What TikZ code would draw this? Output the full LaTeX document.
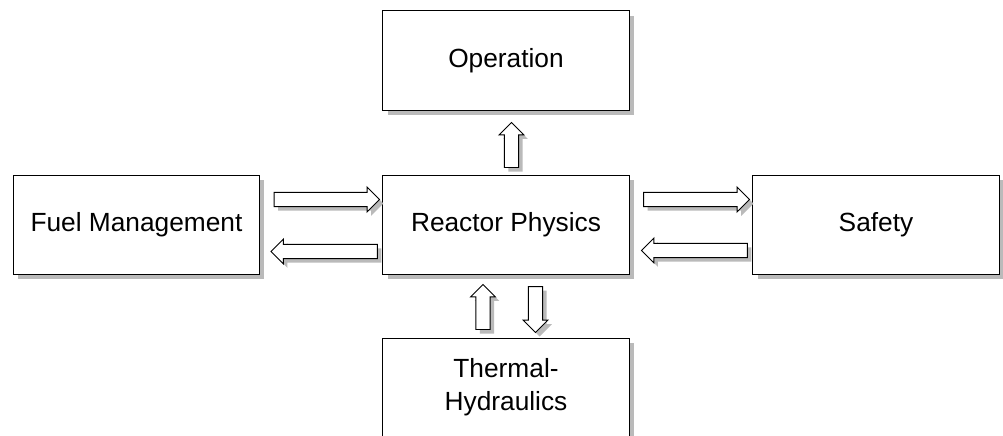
\documentclass[tikz,border=0pt]{standalone}
\usepackage{fontspec}
\setmainfont{Liberation Sans}
\usetikzlibrary{calc,shadows}
\newcommand\bw{0.18cm}
\newcommand\bhw{0.31cm}
\newcommand\bh{0.31cm}
\newcommand\blockarrow[2]{%
  \draw[blockarr] ($(#1)!\bw!90:(#2)$) -- ($(#2)!\bh!(#1)!\bw!-90:(#1)$)
    -- ($(#2)!\bh!(#1)!\bhw!-90:(#1)$) -- (#2)
    -- ($(#2)!\bh!(#1)!\bhw!90:(#1)$) -- ($(#2)!\bh!(#1)!\bw!90:(#1)$)
    -- ($(#1)!\bw!-90:(#2)$) -- cycle;}
\tikzset{
  boxshadow/.style={drop shadow={shadow xshift=0.12cm, shadow yshift=-0.12cm, fill=black!27, opacity=1}},
  topic/.style={draw=black, line width=0.7pt, fill=white, boxshadow,
    minimum width=6.15cm, minimum height=2.475cm, inner sep=0pt,
    align=center, font=\fontsize{18.7}{23.4}\selectfont},
  blockarr/.style={draw=black, line width=0.7pt, fill=white, line join=miter,
    drop shadow={shadow xshift=0.1cm, shadow yshift=-0.1cm, fill=black!27, opacity=1}}
}
\begin{document}
\begin{tikzpicture}[x=0.025cm,y=-0.025cm]
\useasboundingbox (0,0) rectangle (1003,435);
\clip (0,0) rectangle (1003,435);
\fill[white] (0,0) rectangle (1003,435);
\node[topic] (op) at (506,60.5) {Operation};
\node[topic] (rp) at (506,224.5) {Reactor Physics};
\node[topic] (fm) at (136.5,224.5) {Fuel Management};
\node[topic] (sf) at (876,224.5) {Safety};
\node[topic] (th) at (506,387.5) {Thermal-\\Hydraulics};
% arrow end points
\coordinate (a1s) at ($(fm.east)+(14,-25)$);
\coordinate (a1e) at ($(rp.west)+(-3,-25)$);
\coordinate (a2s) at ($(rp.west)+(-5,27)$);
\coordinate (a2e) at ($(fm.east)+(11,27)$);
\coordinate (a3s) at ($(rp.east)+(14,-25)$);
\coordinate (a3e) at ($(sf.west)+(-3,-25)$);
\coordinate (a4s) at ($(sf.west)+(-5,26)$);
\coordinate (a4e) at ($(rp.east)+(12,26)$);
\coordinate (a5s) at ($(rp.north)+(5.5,-7)$);
\coordinate (a5e) at ($(op.south)+(5.5,12)$);
\coordinate (a6s) at ($(th.north)+(-23,-8)$);
\coordinate (a6e) at ($(rp.south)+(-23,10)$);
\coordinate (a7s) at ($(rp.south)+(29.5,12)$);
\coordinate (a7e) at ($(th.north)+(29.5,-5)$);
\blockarrow{a1s}{a1e}
\blockarrow{a2s}{a2e}
\blockarrow{a3s}{a3e}
\blockarrow{a4s}{a4e}
\blockarrow{a5s}{a5e}
\blockarrow{a6s}{a6e}
\blockarrow{a7s}{a7e}
\end{tikzpicture}
\end{document}
